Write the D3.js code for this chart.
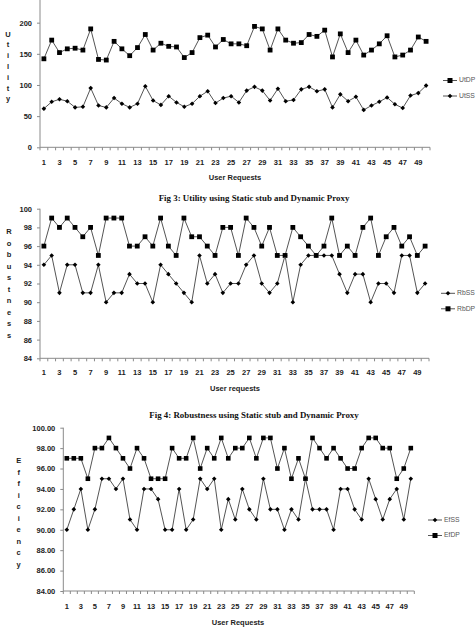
<!DOCTYPE html>
<html>
<head>
<meta charset="utf-8">
<script src="https://cdn.jsdelivr.net/npm/d3@7"></script>
<style>
  body { margin: 0; background: #fff; }
  svg { display: block; }
  .tick-lbl { font-family: "Liberation Sans", Arial, sans-serif; font-size: 7.5px; font-weight: bold; fill: #222; }
  .title-lbl { font-family: "Liberation Sans", Arial, sans-serif; font-size: 7.5px; font-weight: bold; fill: #222; }
  .legend-lbl { font-family: "Liberation Sans", Arial, sans-serif; font-size: 6.8px; fill: #555; }
  .caption { font-family: "Liberation Serif", "Times New Roman", serif; font-size: 8.9px; font-weight: bold; fill: #111; }
</style>
</head>
<body>
<svg id="chart" width="476" height="637"></svg>
<script>
// user request ids 1..50
const requests = d3.range(1, 51);

// Fig 3 - utility
const utilityDP = [142,172,152,158,159,156,190,141,140,170,158,147,160,181,156,167,162,161,144,152,
                   176,180,161,173,166,166,163,194,190,156,190,172,167,168,181,178,188,145,182,152,
                   172,148,156,166,179,145,148,156,177,170];
const utilitySS = [62,73,77,74,64,65,95,67,64,79,70,64,70,98,75,68,82,72,65,70,
                   82,90,71,79,82,72,91,97,91,75,94,74,76,93,97,90,93,64,85,74,
                   81,60,67,73,80,69,63,83,87,99];
const utilityTicks = [0, 50, 100, 150, 200];

// Fig 4 - robustness
const robustDP = [96,99,98,99,98,97,98,95,99,99,99,96,96,97,96,99,96,95,99,97,
                  97,96,95,98,98,95,99,98,96,98,95,95,98,97,96,95,96,99,95,96,
                  95,98,99,95,97,98,96,97,95,96];
const robustSS = [94,95,91,94,94,91,91,94,90,91,91,93,92,92,90,94,93,92,91,90,
                  95,92,93,91,92,92,94,95,92,91,92,95,90,94,95,95,95,95,93,91,
                  93,93,90,92,92,91,95,95,91,92];
const pctTicks = [84, 86, 88, 90, 92, 94, 96, 98, 100];

// efficiency
const effDP = [97,97,97,95,98,98,99,98,97,96,98,97,95,95,95,98,97,97,99,96,
               98,97,99,97,98,98,99,97,99,99,96,98,95,97,95,99,98,97,98,97,
               96,96,98,99,99,98,98,95,96,98];
const effSS = [90,92,94,90,92,95,95,94,95,91,90,94,94,93,90,90,94,90,91,95,
               94,95,90,93,91,94,92,91,95,92,92,90,92,91,95,92,92,92,90,94,
               94,92,91,95,93,91,93,94,91,95];

const svg = d3.select("#chart");
const lineColor = "#555";
const axisColor = "#8a8a8a";

function square(sel, s) {
  sel.append("rect").attr("x", -s / 2).attr("y", -s / 2).attr("width", s).attr("height", s).attr("fill", "#000");
}
function diamond(sel, s) {
  sel.append("path").attr("d", `M0,${-s}L${s},0L0,${s}L${-s},0Z`).attr("fill", "#000");
}

function drawChart(cfg) {
  const x = d3.scaleBand().domain(requests).range([cfg.left, cfg.right]);
  const y = d3.scaleLinear().domain(cfg.domain).range([cfg.bottom, cfg.top]);
  const g = svg.append("g");

  // y axis (line runs to the top of the domain)
  const ya = g.append("g").attr("transform", `translate(${cfg.left},0)`)
    .call(d3.axisLeft(y).tickValues(cfg.ticks).tickSize(3).tickFormat(cfg.fmt));
  ya.select(".domain").attr("stroke", axisColor).attr("d", `M0,${cfg.top}V${cfg.bottom}`);
  ya.selectAll(".tick line").attr("stroke", axisColor);
  ya.selectAll(".tick text").attr("class", "tick-lbl").attr("x", -8);

  // x axis line + boundary ticks
  g.append("line").attr("x1", cfg.left).attr("x2", cfg.right).attr("y1", cfg.bottom).attr("y2", cfg.bottom).attr("stroke", axisColor);
  g.selectAll(".xt").data(d3.range(0, requests.length + 1)).join("line")
    .attr("x1", i => cfg.left + i * x.step()).attr("x2", i => cfg.left + i * x.step())
    .attr("y1", cfg.bottom).attr("y2", cfg.bottom + 3).attr("stroke", axisColor);
  g.selectAll(".xl").data(requests.filter(r => r % 2 === 1)).join("text")
    .attr("class", "tick-lbl").attr("text-anchor", "middle")
    .attr("x", r => x(r) + x.bandwidth() / 2).attr("y", cfg.xLabelY).text(r => r);

  // axis titles
  g.append("text").attr("class", "title-lbl").attr("text-anchor", "middle")
    .attr("x", cfg.xTitleX).attr("y", cfg.xTitleY).text(cfg.xTitle);
  g.selectAll(".yt").data(cfg.yTitle.split("")).join("text")
    .attr("class", "title-lbl").attr("text-anchor", "middle").attr("dominant-baseline", "middle")
    .attr("x", cfg.yTitleX).attr("y", (c, i) => cfg.yTitleY + i * cfg.yTitleStep).text(c => c);

  // series
  const line = d3.line().x((v, i) => x(requests[i]) + x.bandwidth() / 2).y(v => y(v));
  cfg.series.forEach(s => {
    g.append("path").datum(s.values).attr("fill", "none").attr("stroke", lineColor).attr("stroke-width", 1).attr("d", line);
    s.values.forEach((v, i) => {
      const m = g.append("g").attr("transform", `translate(${x(requests[i]) + x.bandwidth() / 2},${y(v)})`);
      s.marker === "square" ? square(m, cfg.sq) : diamond(m, 2.3);
    });
  });

  // legend
  cfg.legend.forEach((s, i) => {
    const ly = cfg.legendY + i * 15.5;
    g.append("line").attr("x1", cfg.legendX).attr("x2", cfg.legendX + 14).attr("y1", ly).attr("y2", ly).attr("stroke", lineColor);
    const m = g.append("g").attr("transform", `translate(${cfg.legendX + 7},${ly})`);
    s.marker === "square" ? square(m, 5) : diamond(m, 2.3);
    g.append("text").attr("class", "legend-lbl").attr("dominant-baseline", "middle")
      .attr("x", cfg.legendX + 16).attr("y", ly).text(s.name);
  });
}

const utDP = { name: "UtDP", values: utilityDP, marker: "square" };
const utSS = { name: "UtSS", values: utilitySS, marker: "diamond" };
drawChart({
  left: 40, right: 430, top: -8.5, bottom: 147.3, domain: [0, 250], ticks: utilityTicks, fmt: d3.format("d"),
  xLabelY: 164.5, xTitle: "User Requests", xTitleX: 235, xTitleY: 179.5,
  yTitle: "Utility", yTitleX: 8, yTitleY: 34.7, yTitleStep: 10.8,
  series: [utDP, utSS], legend: [utDP, utSS], legendX: 443, legendY: 80.5, sq: 4.8
});
svg.append("text").attr("class", "caption").attr("text-anchor", "middle").attr("x", 254).attr("y", 200.5)
  .text("Fig 3: Utility using Static stub and Dynamic Proxy");

const rbSS = { name: "RbSS", values: robustSS, marker: "diamond" };
const rbDP = { name: "RbDP", values: robustDP, marker: "square" };
drawChart({
  left: 40, right: 429, top: 208.7, bottom: 358.3, domain: [84, 100], ticks: pctTicks, fmt: d3.format("d"),
  xLabelY: 375, xTitle: "User requests", xTitleX: 235, xTitleY: 391,
  yTitle: "Robustness", yTitleX: 9, yTitleY: 232.3, yTitleStep: 11.5,
  series: [rbDP, rbSS], legend: [rbSS, rbDP], legendX: 441, legendY: 293.3, sq: 4.8
});
svg.append("text").attr("class", "caption").attr("text-anchor", "middle").attr("x", 254).attr("y", 418)
  .text("Fig 4: Robustness using Static stub and Dynamic Proxy");

const efSS = { name: "EfSS", values: effSS, marker: "diamond" };
const efDP = { name: "EfDP", values: effDP, marker: "square" };
drawChart({
  left: 63.3, right: 414.3, top: 427.7, bottom: 591, domain: [84, 100], ticks: pctTicks, fmt: d3.format(".2f"),
  xLabelY: 608.5, xTitle: "User Requests", xTitleX: 238, xTitleY: 625,
  yTitle: "Efficiency", yTitleX: 18.7, yTitleY: 461, yTitleStep: 11.55,
  series: [efDP, efSS], legend: [efSS, efDP], legendX: 428, legendY: 520, sq: 4.6
});
</script>
</body>
</html>
